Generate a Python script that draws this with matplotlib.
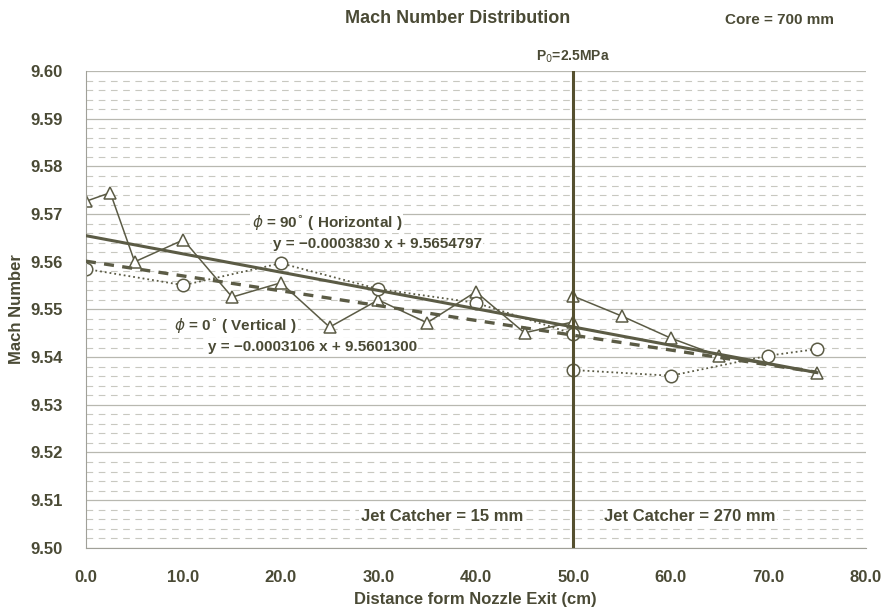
import numpy as np
import matplotlib
matplotlib.use("Agg")
import matplotlib.pyplot as plt
from matplotlib.ticker import MultipleLocator

plt.rcParams['font.family'] = ['Liberation Sans Narrow', 'Liberation Sans', 'DejaVu Sans']

# phi = 90 deg (Horizontal), triangles
h_x_left = [0.0, 2.5, 5.0, 10.0, 15.0, 20.0, 25.0, 30.0, 35.0, 40.0, 45.0, 50.0]
h_y_left = [9.5727, 9.5745, 9.5600, 9.5646, 9.5526, 9.5556, 9.5463, 9.5520, 9.5472, 9.5537, 9.5451, 9.5474]
h_x_right = [50.0, 55.0, 60.0, 65.0, 75.0]
h_y_right = [9.5528, 9.5486, 9.5440, 9.5402, 9.5367]

# phi = 0 deg (Vertical), circles
v_x_left = [0.0, 10.0, 20.0, 30.0, 40.0, 50.0]
v_y_left = [9.5585, 9.5551, 9.5597, 9.5543, 9.5514, 9.5449]
v_x_right = [50.0, 60.0, 70.0, 75.0]
v_y_right = [9.5373, 9.5361, 9.5403, 9.5417]

# fitted lines
h_slope, h_icpt = -0.0003830, 9.5654797
v_slope, v_icpt = -0.0003106, 9.5601300
fit_x = [0.0, 75.0]

col = '#5b5b45'
txt = '#4a4a35'

fig = plt.figure(figsize=(8.86, 6.08), dpi=100)
ax = fig.add_axes([0.097, 0.099, 0.880, 0.784])

ax.set_xlim(0, 80)
ax.set_ylim(9.50, 9.60)
ax.yaxis.set_major_locator(MultipleLocator(0.01))
ax.yaxis.set_minor_locator(MultipleLocator(0.002))
ax.xaxis.set_major_locator(MultipleLocator(10))
ax.grid(axis='y', which='major', color='#b8b8b0', lw=0.9)
ax.grid(axis='y', which='minor', color='#c8c8c0', lw=0.8, ls=(0, (6, 5)))
ax.set_axisbelow(True)
for s in ['top', 'right']:
    ax.spines[s].set_visible(False)
for s in ['left', 'bottom']:
    ax.spines[s].set_color('#a0a098')

ax.tick_params(axis='both', which='both', length=0, labelsize=12, labelcolor=txt)
ax.tick_params(axis='x', pad=16)
ax.tick_params(axis='y', pad=17)
ax.set_xticks(np.arange(0, 81, 10))
ax.set_xticklabels([f'{v:.1f}' for v in np.arange(0, 81, 10)], fontweight='bold')
ax.set_yticks(np.arange(9.50, 9.6001, 0.01))
ax.set_yticklabels([f'{v:.2f}' for v in np.arange(9.50, 9.6001, 0.01)], fontweight='bold')

ax.plot(h_x_left, h_y_left, '-', color=col, lw=1.1, marker='^', ms=9, mfc='white', mec=col, mew=1.1)
ax.plot(h_x_right, h_y_right, '-', color=col, lw=1.1, marker='^', ms=9, mfc='white', mec=col, mew=1.1)
ax.plot(v_x_left, v_y_left, ':', color=col, lw=1.3, marker='o', ms=9, mfc='white', mec=col, mew=1.1)
ax.plot(v_x_right, v_y_right, ':', color=col, lw=1.3, marker='o', ms=9, mfc='white', mec=col, mew=1.1)

ax.plot(fit_x, [h_icpt + h_slope * x for x in fit_x], '-', color=col, lw=2.2, zorder=3)
ax.plot(fit_x, [v_icpt + v_slope * x for x in fit_x], '--', color=col, lw=2.4, dashes=(3, 2.5), zorder=3)

ax.axvline(50, color='#55502f', lw=2.2, zorder=4)

box = dict(facecolor='white', edgecolor='none', pad=1)
ax.text(17, 9.5683, r'$\phi$ = 90$^{\circ}$ ( Horizontal )', fontsize=11, fontweight='bold', color=txt, bbox=box, va='center')
ax.text(19.2, 9.5638, 'y = \u22120.0003830 x + 9.5654797', fontsize=11, fontweight='bold', color=txt, bbox=box, va='center')
ax.text(9, 9.5466, r'$\phi$ = 0$^{\circ}$ ( Vertical )', fontsize=11, fontweight='bold', color=txt, bbox=box, va='center')
ax.text(12.5, 9.5422, 'y = \u22120.0003106 x + 9.5601300', fontsize=11, fontweight='bold', color=txt, bbox=box, va='center')
ax.text(28.2, 9.5066, 'Jet Catcher = 15 mm', fontsize=12, fontweight='bold', color=txt, bbox=box, va='center')
ax.text(53.2, 9.5066, 'Jet Catcher = 270 mm', fontsize=12, fontweight='bold', color=txt, bbox=box, va='center')

ax.text(50, 9.6012, r'P$_0$=2.5MPa', fontsize=10, fontweight='bold', color=txt, ha='center', va='bottom')
fig.text(0.517, 0.970, 'Mach Number Distribution', fontsize=13, fontweight='bold', color=txt, ha='center', va='center')
fig.text(0.818, 0.967, 'Core = 700 mm', fontsize=11, fontweight='bold', color=txt, ha='left', va='center')

ax.set_xlabel('Distance form Nozzle Exit (cm)', fontsize=12, fontweight='bold', color=txt, labelpad=5)
ax.set_ylabel('Mach Number', fontsize=12, fontweight='bold', color=txt, labelpad=4)

fig.savefig('out.png', dpi=100)
